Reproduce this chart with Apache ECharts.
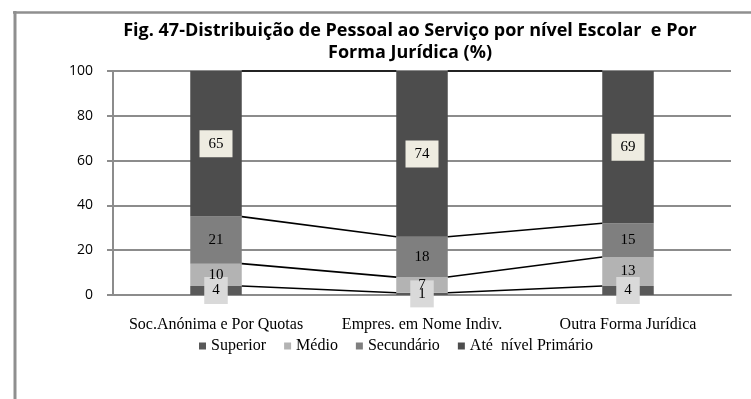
<!DOCTYPE html>
<html>
<head>
<meta charset="utf-8">
<script src="https://cdn.jsdelivr.net/npm/echarts@6/dist/echarts.min.js"></script>
<style>
  html, body { margin: 0; padding: 0; background: #ffffff; }
  #chart { width: 751px; height: 399px; }
</style>
</head>
<body>
<div id="chart"></div>
<script>
// Distribution of staff by school level and legal form (%)
const categories = ['Soc.Anónima e Por Quotas', 'Empres. em Nome Indiv.', 'Outra Forma Jurídica'];
const seriesNames = ['Superior', 'Médio', 'Secundário', 'Até  nível Primário'];
const superior = [4, 1, 4];
const medio = [10, 7, 13];
const secundario = [21, 18, 15];
const primario = [65, 74, 69];
const yTicks = [0, 20, 40, 60, 80, 100];

const colors = ['#595959', '#b3b3b3', '#7f7f7f', '#4d4d4d'];
const serif = '"Liberation Serif", "Times New Roman", serif';
const values = [superior, medio, secundario, primario];
const AXIS_MAX = yTicks[yTicks.length - 1];
const BAR_FRACTION = 0.25;

// cumulative tops of each stack level, used for the series lines
const cumulative = values.map((_, level) =>
  categories.map((_, c) => {
    let s = 0;
    for (let k = 0; k <= level; k++) s += values[k][c];
    return Math.min(s, AXIS_MAX);
  })
);
const connectorData = [];
cumulative.forEach(row => {
  for (let c = 0; c < categories.length - 1; c++) {
    connectorData.push([c, row[c], row[c + 1]]);
  }
});

const labelStyles = [
  { backgroundColor: '#d9d9d9', padding: [6, 8, 5, 8] },
  { padding: [0, 0, 0, 0] },
  { padding: [0, 0, 0, 0] },
  { backgroundColor: '#eeece1', padding: [6, 9, 5, 9] }
];

const barSeries = seriesNames.map((name, i) => ({
  name: name,
  type: 'bar',
  stack: 'total',
  barWidth: (BAR_FRACTION * 100) + '%',
  data: values[i],
  itemStyle: { color: colors[i] },
  z: 2,
  label: Object.assign({
    show: true,
    position: 'inside',
    color: '#000000',
    fontFamily: serif,
    fontSize: 15,
    lineHeight: 16
  }, labelStyles[i]),
  emphasis: { disabled: true }
}));

const chart = echarts.init(document.getElementById('chart'), null, { renderer: 'canvas' });
chart.setOption({
  animation: false,
  backgroundColor: '#ffffff',
  color: colors,
  graphic: [
    { type: 'line', shape: { x1: 13, y1: 12.5, x2: 751, y2: 12.5 }, style: { stroke: '#8f8f8f', lineWidth: 2.5 }, silent: true },
    { type: 'line', shape: { x1: 15, y1: 11, x2: 15, y2: 399 }, style: { stroke: '#8f8f8f', lineWidth: 3 }, silent: true },
    {
      type: 'text', x: 410, y: 20, silent: true,
      style: {
        text: 'Fig. 47-Distribuição de Pessoal ao Serviço por nível Escolar  e Por\nForma Jurídica (%)',
        x: 0, y: 0,
        textAlign: 'center',
        fill: '#000000',
        fontFamily: '"Open Sans", "Liberation Sans", sans-serif',
        fontWeight: 'bold',
        fontSize: 18,
        lineHeight: 22
      }
    }
  ],
  legend: {
    data: seriesNames,
    top: 333,
    left: 194,
    itemWidth: 7,
    itemHeight: 7,
    itemGap: 18,
    icon: 'rect',
    textStyle: { fontFamily: serif, fontSize: 16, color: '#000000' }
  },
  grid: { left: 113, right: 20, top: 71, bottom: 104, containLabel: false },
  xAxis: {
    type: 'category',
    data: categories,
    axisLine: { lineStyle: { color: '#8c8c8c', width: 2 } },
    axisTick: { show: false },
    axisLabel: { interval: 0, fontFamily: serif, fontSize: 16, color: '#000000', margin: 22 }
  },
  yAxis: {
    type: 'value',
    min: yTicks[0],
    max: AXIS_MAX,
    interval: yTicks[1] - yTicks[0],
    axisLine: { show: true, lineStyle: { color: '#8c8c8c', width: 2 } },
    axisTick: { show: true, length: 6, lineStyle: { color: '#8c8c8c', width: 2 } },
    axisLabel: { fontFamily: '"Open Sans", "Liberation Sans", sans-serif', fontSize: 14, color: '#000000', margin: 20 },
    splitLine: { lineStyle: { color: '#8c8c8c', width: 2 } }
  },
  series: barSeries.concat([{
    type: 'custom',
    name: 'connectors',
    silent: true,
    z: 3,
    clip: false,
    data: connectorData,
    renderItem: function (params, api) {
      const c = api.value(0);
      const p1 = api.coord([c, api.value(1)]);
      const p2 = api.coord([c + 1, api.value(2)]);
      const half = api.size([1, 0])[0] * BAR_FRACTION / 2;
      return {
        type: 'line',
        shape: { x1: p1[0] + half, y1: p1[1], x2: p2[0] - half, y2: p2[1] },
        style: { stroke: '#000000', lineWidth: 1.6 }
      };
    }
  }])
});
</script>
</body>
</html>
